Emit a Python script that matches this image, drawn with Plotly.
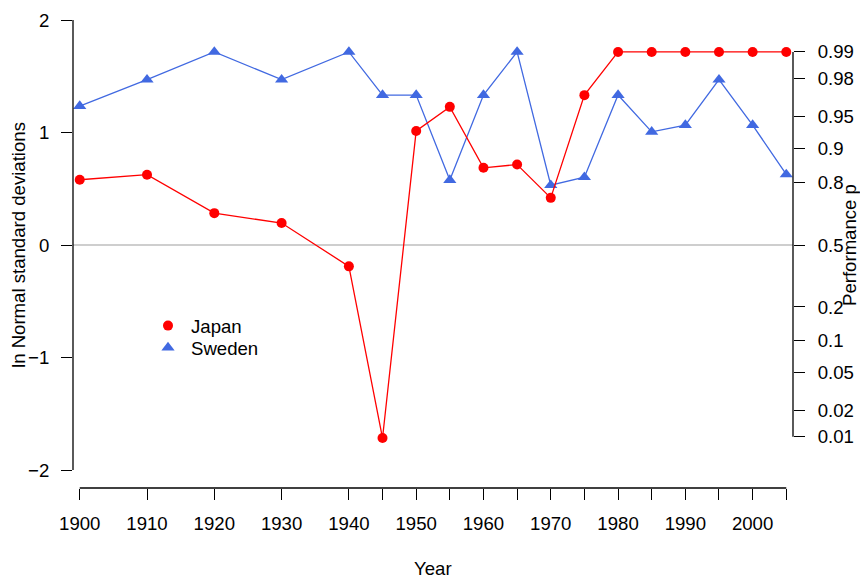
import plotly.graph_objects as go

# survey years
years = [1900, 1910, 1920, 1930, 1940, 1945, 1950, 1955, 1960, 1965,
         1970, 1975, 1980, 1985, 1990, 1995, 2000, 2005]

# performance in ln Normal standard deviations (capped at p = 0.99)
japan = [0.58, 0.625, 0.283, 0.195, -0.19, -1.716, 1.014, 1.228, 0.686, 0.715,
         0.419, 1.332, 1.716, 1.716, 1.716, 1.716, 1.716, 1.716]
sweden = [1.235, 1.47, 1.716, 1.47, 1.716, 1.333, 1.333, 0.577, 1.333, 1.716,
          0.532, 0.603, 1.333, 1.006, 1.066, 1.47, 1.066, 0.627]

# left axis ticks
sd_ticks = [-2, -1, 0, 1, 2]

# right axis: probability labels and where they sit on the left scale
p_labels = ["0.01", "0.02", "0.05", "0.1", "0.2", "0.5",
            "0.8", "0.9", "0.95", "0.98", "0.99"]
p_at_sd = [-1.704, -1.473, -1.135, -0.85, -0.551, 0.0,
           0.554, 0.856, 1.138, 1.476, 1.716]

year_labels = [str(y) if y % 10 == 0 and y <= 2000 else "" for y in years]

RED = "#FF0000"
BLUE = "#4169E1"
FONT = "Liberation Sans, Arial, sans-serif"
FS = 18.6
LW = 1.3

fig = go.Figure()

fig.add_trace(go.Scatter(x=years, y=sweden, mode="lines+markers",
                         line=dict(color=BLUE, width=LW),
                         marker=dict(symbol="triangle-up", size=11.5, color=BLUE),
                         showlegend=False))
fig.add_trace(go.Scatter(x=years, y=japan, mode="lines+markers",
                         line=dict(color=RED, width=LW),
                         marker=dict(symbol="circle", size=10, color=RED),
                         showlegend=False))

# legend entries show points only (one legend box each, for R-like spacing)
fig.add_trace(go.Scatter(x=[None], y=[None], mode="markers", name="Japan",
                         marker=dict(symbol="circle", size=10, color=RED),
                         legend="legend"))
fig.add_trace(go.Scatter(x=[None], y=[None], mode="markers", name="Sweden",
                         marker=dict(symbol="triangle-up", size=11.5, color=BLUE),
                         legend="legend2"))

# invisible trace so the right axis exists
fig.add_trace(go.Scatter(x=[years[0]], y=[0], yaxis="y2", mode="markers",
                         marker=dict(opacity=0), showlegend=False,
                         hoverinfo="skip"))

# reference line at 0 and the R-style axis lines
fig.add_shape(type="line", xref="paper", x0=0, x1=1, yref="y", y0=0, y1=0,
              line=dict(color="#BEBEBE", width=LW), layer="below")
fig.add_shape(type="line", xref="paper", x0=0, x1=0, yref="y",
              y0=sd_ticks[0], y1=sd_ticks[-1], line=dict(color="black", width=LW))
fig.add_shape(type="line", xref="paper", x0=1, x1=1, yref="y",
              y0=p_at_sd[0], y1=p_at_sd[-1], line=dict(color="black", width=LW))
fig.add_shape(type="line", xref="x", x0=years[0], x1=years[-1], yref="paper",
              y0=0, y1=0, line=dict(color="black", width=LW))

axis_common = dict(showgrid=False, zeroline=False, showline=False,
                   ticks="outside", ticklen=11, tickwidth=LW, tickcolor="black",
                   tickfont=dict(family=FONT, size=FS, color="black"))

legend_common = dict(xanchor="left", yanchor="middle", itemwidth=36,
                     bgcolor="rgba(0,0,0,0)", borderwidth=0,
                     font=dict(family=FONT, size=FS, color="black"))

fig.update_layout(
    width=860, height=578,
    margin=dict(l=73, r=67, t=2, b=90),
    paper_bgcolor="white", plot_bgcolor="white",
    font=dict(family=FONT, size=FS, color="black"),
    xaxis=dict(range=[1899, 2006], tickmode="array", tickvals=years,
               ticktext=year_labels, ticklabelstandoff=8, **axis_common),
    yaxis=dict(range=[-2.16, 2.16], tickmode="array", tickvals=sd_ticks,
               ticklabelstandoff=8, **axis_common),
    yaxis2=dict(range=[-2.16, 2.16], overlaying="y", side="right",
                tickmode="array", tickvals=p_at_sd, ticktext=p_labels,
                ticklabelstandoff=9, **axis_common),
    legend=dict(x=0.1, y=(488 - 326) / 486, **legend_common),
    legend2=dict(x=0.1, y=(488 - 348) / 486, **legend_common),
    annotations=[
        dict(text="Year", xref="paper", yref="paper", x=0.5, y=0,
             yshift=-80, showarrow=False, yanchor="middle",
             font=dict(family=FONT, size=FS)),
        dict(text="ln Normal standard deviations", xref="paper", yref="paper",
             x=0, y=0.5, xshift=-55, textangle=-90, showarrow=False,
             xanchor="center", yanchor="middle", font=dict(family=FONT, size=FS)),
        dict(text="Performance p", xref="paper", yref="paper",
             x=1, y=0.5, xshift=56, textangle=-90, showarrow=False,
             xanchor="center", yanchor="middle", font=dict(family=FONT, size=FS)),
    ],
)

fig.write_html("out.html", config={"displayModeBar": False},
               post_script="document.body.style.margin='0';")
